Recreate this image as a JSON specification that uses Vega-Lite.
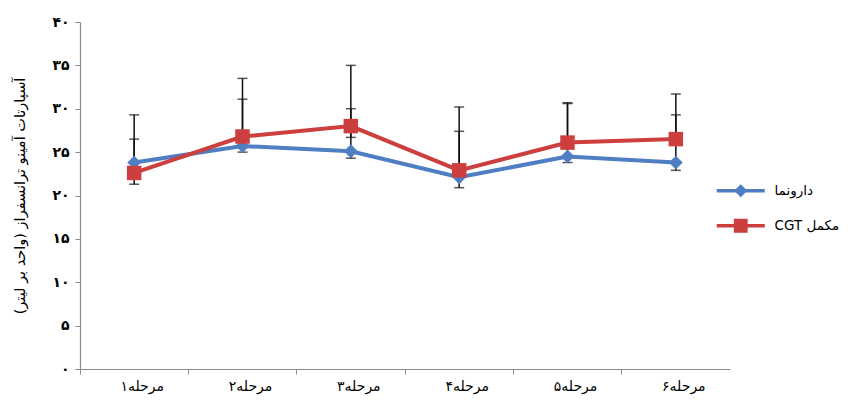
{
  "$schema": "https://vega.github.io/schema/vega-lite/v6.json",
  "width": 650,
  "height": 347,
  "autosize": {"type": "none"},
  "padding": {"left": 80, "top": 22, "right": 134, "bottom": 45},
  "background": "white",
  "config": {
    "view": {"stroke": null},
    "font": "DejaVu Sans",
    "axis": {"domainColor": "#8c8c8c", "tickColor": "#8c8c8c", "grid": false, "labelColor": "#000", "titleColor": "#000"}
  },
  "data": {
    "values": [
      {"stage": "مرحله۱", "series": "دارونما", "value": 23.8, "lo": 21.3, "hi": 26.5},
      {"stage": "مرحله۲", "series": "دارونما", "value": 25.7, "lo": 25.0, "hi": 31.1},
      {"stage": "مرحله۳", "series": "دارونما", "value": 25.1, "lo": 24.3, "hi": 30.0},
      {"stage": "مرحله۴", "series": "دارونما", "value": 22.1, "lo": 20.9, "hi": 27.4},
      {"stage": "مرحله۵", "series": "دارونما", "value": 24.5, "lo": 23.8, "hi": 30.6},
      {"stage": "مرحله۶", "series": "دارونما", "value": 23.8, "lo": 22.9, "hi": 29.3},
      {"stage": "مرحله۱", "series": "CGT مکمل", "value": 22.6, "lo": 22.6, "hi": 29.3},
      {"stage": "مرحله۲", "series": "CGT مکمل", "value": 26.8, "lo": 26.8, "hi": 33.5},
      {"stage": "مرحله۳", "series": "CGT مکمل", "value": 28.0, "lo": 26.7, "hi": 35.0},
      {"stage": "مرحله۴", "series": "CGT مکمل", "value": 22.9, "lo": 22.9, "hi": 30.2},
      {"stage": "مرحله۵", "series": "CGT مکمل", "value": 26.1, "lo": 26.1, "hi": 30.7},
      {"stage": "مرحله۶", "series": "CGT مکمل", "value": 26.5, "lo": 26.5, "hi": 31.7}
    ]
  },
  "encoding": {
    "x": {
      "field": "stage", "type": "nominal", "sort": null,
      "scale": {"paddingInner": 0, "paddingOuter": 0},
      "axis": {
        "title": null, "labelAngle": 0, "labelFontSize": 14, "bandPosition": 0,
        "labelOffset": 8, "tickSize": 5, "labelPadding": 5, "domainWidth": 1.2
      }
    }
  },
  "layer": [
    {
      "mark": {"type": "rule", "color": "#111", "strokeWidth": 1.5},
      "encoding": {
        "y": {
          "field": "lo", "type": "quantitative",
          "scale": {"domain": [0, 40], "nice": false},
          "axis": {
            "values": [0, 5, 10, 15, 20, 25, 30, 35, 40],
            "labelExpr": "{'0':'۰','5':'۵','10':'۱۰','15':'۱۵','20':'۲۰','25':'۲۵','30':'۳۰','35':'۳۵','40':'۴۰'}[datum.label]",
            "labelFontSize": 14, "labelFontWeight": "bold", "tickSize": 5, "labelPadding": 6,
            "title": "آسپارتات آمینو ترانسفراز (واحد بر لیتر)",
            "titleFontSize": 14.5, "titleFontWeight": "normal", "titlePadding": 24, "domainWidth": 1.2
          }
        },
        "y2": {"field": "hi"}
      }
    },
    {
      "transform": [{"fold": ["lo", "hi"], "as": ["bound", "bv"]}],
      "mark": {"type": "tick", "color": "#111", "thickness": 1.5, "size": 10, "orient": "horizontal"},
      "encoding": {
        "y": {"field": "bv", "type": "quantitative"}
      }
    },
    {
      "transform": [{"filter": "datum.series === 'دارونما'"}],
      "mark": {"type": "line", "strokeWidth": 4, "color": "#4F7EC2"},
      "encoding": {
        "y": {"field": "value", "type": "quantitative"}
      }
    },
    {
      "transform": [{"filter": "datum.series === 'CGT مکمل'"}],
      "mark": {"type": "line", "strokeWidth": 4, "color": "#CD3E3E"},
      "encoding": {
        "y": {"field": "value", "type": "quantitative"}
      }
    },
    {
      "transform": [{"filter": "datum.series === 'دارونما'"}],
      "mark": {"type": "point", "filled": true, "opacity": 1, "shape": "diamond", "size": 190, "color": "#4F7EC2"},
      "encoding": {
        "y": {"field": "value", "type": "quantitative"}
      }
    },
    {
      "transform": [{"filter": "datum.series === 'CGT مکمل'"}],
      "mark": {"type": "point", "filled": true, "opacity": 1, "shape": "square", "size": 210, "color": "#CD3E3E"},
      "encoding": {
        "y": {"field": "value", "type": "quantitative"}
      }
    },
    {
      "mark": {"type": "point", "filled": true, "size": 0},
      "encoding": {
        "y": {"field": "value", "type": "quantitative"},
        "color": {
          "field": "series", "type": "nominal",
          "scale": {"domain": ["دارونما", "CGT مکمل"], "range": ["#4F7EC2", "#CD3E3E"]},
          "legend": {
            "title": null, "orient": "none", "legendX": 654, "legendY": 162,
            "padding": 0, "symbolSize": 144, "labelOffset": 27, "rowPadding": 20,
            "labelFontSize": 13.5, "labelColor": "#000", "symbolStrokeWidth": 0, "symbolOpacity": 1
          }
        },
        "shape": {
          "field": "series", "type": "nominal",
          "scale": {
            "domain": ["دارونما", "CGT مکمل"],
            "range": ["M-4,-0.3H4V0.3H-4Z M0,-1.1L1.1,0L0,1.1L-1.1,0Z", "M-4,-0.3H4V0.3H-4Z M-1.15,-1.15H1.15V1.15H-1.15Z"]
          },
          "legend": {
            "title": null, "orient": "none", "legendX": 654, "legendY": 162,
            "padding": 0, "symbolSize": 144, "labelOffset": 27, "rowPadding": 20,
            "labelFontSize": 13.5, "labelColor": "#000", "symbolStrokeWidth": 0, "symbolOpacity": 1
          }
        }
      }
    }
  ]
}
